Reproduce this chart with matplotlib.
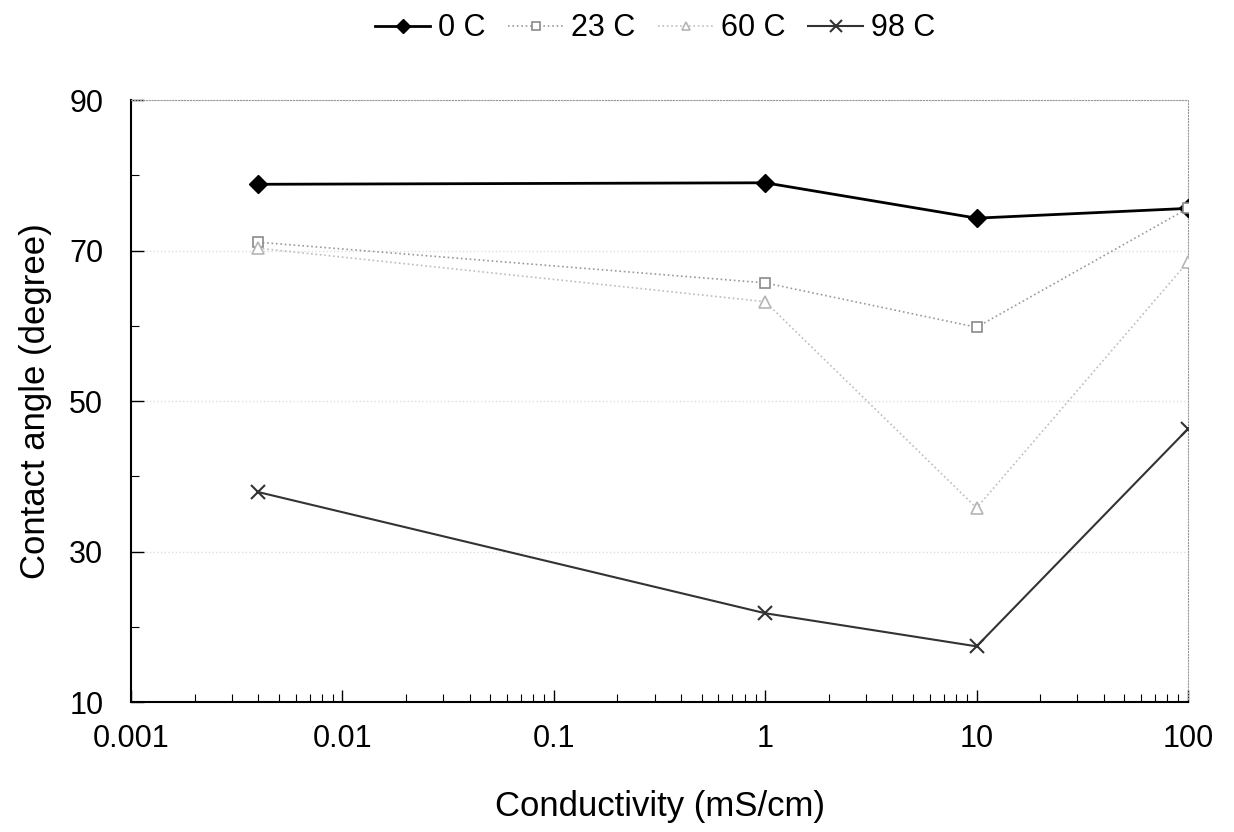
import numpy as np
import matplotlib
matplotlib.use("Agg")
import matplotlib.pyplot as plt
from matplotlib.ticker import LogLocator, FixedLocator, FuncFormatter

plt.rcParams['font.family'] = ['Liberation Sans', 'DejaVu Sans']

conductivity = [0.004, 1, 10, 100]
angle_0c = [78.8, 79.0, 74.3, 75.6]
angle_23c = [71.1, 65.7, 59.8, 75.6]
angle_60c = [70.3, 63.2, 35.8, 68.5]
angle_98c = [37.9, 21.8, 17.4, 46.3]

fig = plt.figure(figsize=(12.34, 8.32), dpi=100)
ax = fig.add_axes([0.1062, 0.1562, 0.8565, 0.7236])

ax.plot(conductivity, angle_0c, color='black', lw=2, marker='D', ms=9,
        mfc='black', mec='black', label='0 C', zorder=3)
ax.plot(conductivity, angle_23c, color='#9a9a9a', lw=1.2, ls=':', marker='s', ms=7,
        mfc='white', mec='#8a8a8a', mew=1.2, label='23 C', zorder=4)
ax.plot(conductivity, angle_60c, color='#bdbdbd', lw=1.2, ls=':', marker='^', ms=8,
        mfc='white', mec='#b5b5b5', mew=1.2, label='60 C', zorder=4)
ax.plot(conductivity, angle_98c, color='#333333', lw=1.5, marker='x', ms=10,
        mec='#333333', mew=1.5, label='98 C', zorder=3)

ax.set_xscale('log')
ax.set_xlim(0.001, 100)
ax.set_ylim(10, 90)
ax.yaxis.set_major_locator(FixedLocator([10, 30, 50, 70, 90]))
ax.yaxis.set_minor_locator(FixedLocator([20, 40, 60, 80]))
ax.xaxis.set_major_locator(LogLocator(base=10, numticks=10))
ax.xaxis.set_minor_locator(LogLocator(base=10, subs=np.arange(2, 10), numticks=10))
ax.xaxis.set_major_formatter(FuncFormatter(lambda v, p: f"{v:g}"))

ax.tick_params(axis='both', which='major', direction='in', length=9, width=1,
               labelsize=22)
ax.tick_params(axis='both', which='minor', direction='in', length=6, width=0.8)
ax.tick_params(axis='x', which='major', pad=16)
ax.tick_params(axis='y', which='major', pad=20)

ax.grid(axis='y', which='major', color='#dedede', ls=':', lw=1)
for side in ('top', 'right'):
    ax.spines[side].set_color('#9a9a9a')
    ax.spines[side].set_linestyle(':')
ax.spines['left'].set_linewidth(1.5)
ax.spines['bottom'].set_linewidth(1.5)

ax.set_xlabel('Conductivity (mS/cm)', fontsize=25, labelpad=26)
ax.set_ylabel('Contact angle (degree)', fontsize=25, labelpad=12)

fig.legend(loc='center', bbox_to_anchor=(0.531, 0.966), ncol=4, frameon=False,
           fontsize=22, handlelength=1.8, handletextpad=0.25, columnspacing=0.75,
           markerscale=0.8)

fig.savefig('out.png', dpi=100)
